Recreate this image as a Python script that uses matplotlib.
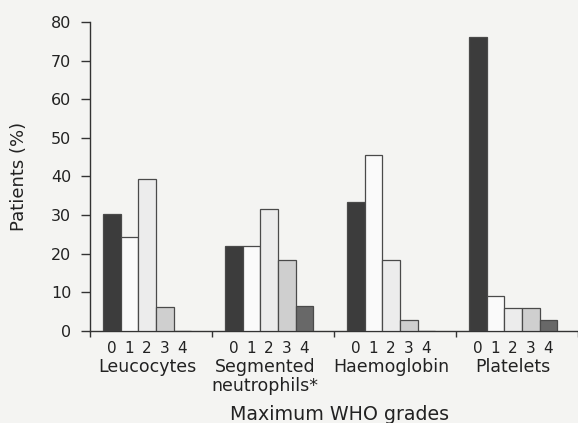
import matplotlib
matplotlib.use("Agg")
import matplotlib.pyplot as plt
import numpy as np

# ---- data ----
groups = ["Leucocytes", "Segmented\nneutrophils*", "Haemoglobin", "Platelets"]
grades = ["0", "1", "2", "3", "4"]
leucocytes = [30.4, 24.4, 39.4, 6.2, 0.0]
segmented = [22.0, 22.0, 31.5, 18.4, 6.5]
haemoglobin = [33.4, 45.5, 18.4, 2.8, 0.0]
platelets = [76.0, 9.1, 6.0, 6.0, 2.9]
yticks = [0, 10, 20, 30, 40, 50, 60, 70, 80]

values = np.array([leucocytes, segmented, haemoglobin, platelets])

# ---- styles / layout ----
grade_colors = ["#3c3c3c", "#fafafa", "#ececec", "#cfcfcf", "#686868"]
edge = "#4a4a4a"
bg = "#f4f4f2"
GROUP_W = 6.94      # group width in bar units
OFFSET = 0.75       # gap before first bar in a group
BAR_W = 1.0

fig = plt.figure(figsize=(5.78, 4.23), dpi=100, facecolor=bg)
ax = fig.add_axes([90 / 578, (423 - 331) / 423, 488 / 578, 309 / 423])
ax.set_facecolor(bg)

for g in range(len(grades)):
    lefts = np.arange(len(groups)) * GROUP_W + OFFSET + g * BAR_W
    ax.bar(lefts, values[:, g], width=BAR_W, align="edge",
           color=grade_colors[g], edgecolor=edge, linewidth=0.9, zorder=3)

ax.set_xlim(0, 488 / 17.9)
ax.set_ylim(0, 80)

for s in ["top", "right"]:
    ax.spines[s].set_visible(False)
for s in ["left", "bottom"]:
    ax.spines[s].set_color("#333333")
    ax.spines[s].set_linewidth(1.0)

ax.set_yticks(yticks)
ax.set_yticklabels([str(t) for t in yticks])
ax.tick_params(axis="y", direction="out", length=6.5, width=1.0,
               color="#333333", labelsize=11.5, pad=7, labelcolor="#222222")

# major x ticks: group separators, minor: grade labels
ax.set_xticks(np.arange(len(groups) + 1) * GROUP_W)
ax.set_xticklabels([""] * (len(groups) + 1))
ax.tick_params(axis="x", which="major", direction="out", length=4.5,
               width=1.0, color="#333333")
minor_pos = []
minor_lab = []
for i in range(len(groups)):
    for g in range(len(grades)):
        minor_pos.append(i * GROUP_W + OFFSET + g * BAR_W + BAR_W / 2)
        minor_lab.append(grades[g])
ax.set_xticks(minor_pos, minor=True)
ax.set_xticklabels(minor_lab, minor=True)
ax.tick_params(axis="x", which="minor", length=0, labelsize=11, pad=7,
               labelcolor="#222222")

# group labels (one annotation per line)
for i, name in enumerate(groups):
    cx = i * GROUP_W + OFFSET + 2.5 * BAR_W
    for j, line in enumerate(name.split("\n")):
        ax.annotate(line, xy=(cx, 0), xycoords=("data", "axes fraction"),
                    xytext=(-3 if "\n" in name else 0, -29.5 - 13.5 * j),
                    textcoords="offset points",
                    ha="center", va="baseline",
                    fontsize=12.5, color="#222222")

ax.set_ylabel("Patients (%)", fontsize=13, color="#222222")
ax.yaxis.set_label_coords(-0.127, 0.5)

fig.text(339.5 / 578, 3 / 423, "Maximum WHO grades", ha="center",
         va="baseline", fontsize=13.7, color="#222222")

fig.savefig("out.png", dpi=100, facecolor=bg)
